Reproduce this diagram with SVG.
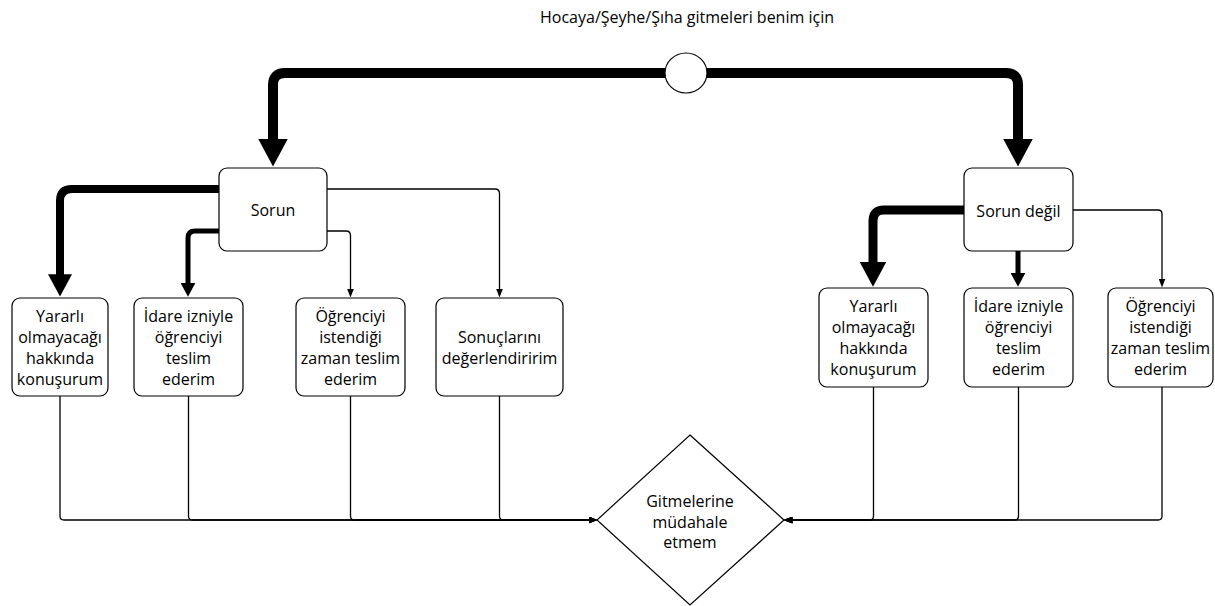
<svg xmlns="http://www.w3.org/2000/svg" width="1215" height="606" viewBox="0 0 1215 606">
<defs>
<style>
.box{fill:#fff;stroke:#000;stroke-width:1.2}
.t{font-family:"Open Sans","Liberation Sans",sans-serif;font-size:16px;fill:#000;text-anchor:middle}
.thick{fill:none;stroke:#000;stroke-linecap:round;stroke-linejoin:round;marker-end:url(#ah)}
.thin{fill:none;stroke:#000;stroke-width:1.3;marker-end:url(#as)}
</style>
<marker id="ah" viewBox="0 0 2.8 3" markerUnits="strokeWidth" markerWidth="2.8" markerHeight="3" refX="0.05" refY="1.5" orient="auto"><path d="M0,0 L2.8,1.5 L0,3 Z" fill="#000"/></marker>
<marker id="as" viewBox="0 0 9 7" markerUnits="userSpaceOnUse" markerWidth="9" markerHeight="7" refX="0.5" refY="3.5" orient="auto"><path d="M0,0 L9,3.5 L0,7 Z" fill="#000"/></marker>
</defs>
<rect width="1215" height="606" fill="#fff"/>
<g id="connectors">
<path class="thick" style="stroke-width:10" d="M676,73 H285 Q273,73 273,85 V139"/>
<path class="thick" style="stroke-width:10" d="M696,73 H1006 Q1018,73 1018,85 V139"/>
<path class="thick" style="stroke-width:8" d="M222,189 H72 Q60,189 60,201 V274.6"/>
<path class="thick" style="stroke-width:5" d="M222,231 H195 Q188,231 188,238 V283"/>
<path class="thin" d="M327,189 H495 Q499.5,189 499.5,193.5 V289"/>
<path class="thin" d="M327,231 H346 Q350.5,231 350.5,235.5 V289"/>
<path class="thick" style="stroke-width:9" d="M966,210 H884 Q873,210 873,221 V262"/>
<path class="thick" style="stroke-width:5;stroke-linecap:butt" d="M1018,251 V273"/>
<path class="thin" d="M1073,210 H1158 Q1162,210 1162,214 V279"/>
<path class="thin" d="M60,396 V516 Q60,520 64,520 H589"/>
<path class="thin" d="M188.5,396 V516 Q188.5,520 192.5,520 H589"/>
<path class="thin" d="M350.5,396 V516 Q350.5,520 354.5,520 H589"/>
<path class="thin" d="M499.5,396 V516 Q499.5,520 503.5,520 H589"/>
<path class="thin" d="M873.5,387 V516 Q873.5,520 869.5,520 H792"/>
<path class="thin" d="M1018.5,387 V516 Q1018.5,520 1014.5,520 H792"/>
<path class="thin" d="M1162,387 V516 Q1162,520 1158,520 H792"/>
</g>
<g id="title"><text class="t" x="687" y="23">Hocaya/Şeyhe/Şıha gitmeleri benim için</text></g>
<g id="start"><ellipse cx="686" cy="73" rx="21" ry="20" fill="#fff" stroke="#000" stroke-width="1.2"/></g>
<g id="sorun"><rect class="box" x="219" y="168" width="108" height="83" rx="8"/><text class="t" x="273" y="216">Sorun</text></g>
<g id="sorun-degil"><rect class="box" x="964" y="168" width="109" height="83" rx="8"/><text class="t" x="1018.5" y="217">Sorun değil</text></g>
<g id="l1"><rect class="box" x="12" y="298" width="96" height="98" rx="8"/><text class="t" x="60" y="322">Yararlı</text><text class="t" x="60" y="343">olmayacağı</text><text class="t" x="60" y="364">hakkında</text><text class="t" x="60" y="385">konuşurum</text></g>
<g id="l2"><rect class="box" x="134" y="298" width="109" height="98" rx="8"/><text class="t" x="188.5" y="322">İdare izniyle</text><text class="t" x="188.5" y="343">öğrenciyi</text><text class="t" x="188.5" y="364">teslim</text><text class="t" x="188.5" y="385">ederim</text></g>
<g id="l3"><rect class="box" x="296" y="298" width="109" height="98" rx="8"/><text class="t" x="350.5" y="322">Öğrenciyi</text><text class="t" x="350.5" y="343">istendiği</text><text class="t" x="350.5" y="364">zaman teslim</text><text class="t" x="350.5" y="385">ederim</text></g>
<g id="l4"><rect class="box" x="436" y="298" width="127" height="98" rx="8"/><text class="t" x="499.5" y="343">Sonuçlarını</text><text class="t" x="499.5" y="364">değerlendiririm</text></g>
<g id="r1"><rect class="box" x="819" y="288" width="109" height="99" rx="8"/><text class="t" x="873.5" y="312">Yararlı</text><text class="t" x="873.5" y="333">olmayacağı</text><text class="t" x="873.5" y="354">hakkında</text><text class="t" x="873.5" y="375">konuşurum</text></g>
<g id="r2"><rect class="box" x="964" y="288" width="109" height="99" rx="8"/><text class="t" x="1018.5" y="312">İdare izniyle</text><text class="t" x="1018.5" y="333">öğrenciyi</text><text class="t" x="1018.5" y="354">teslim</text><text class="t" x="1018.5" y="375">ederim</text></g>
<g id="r3"><rect class="box" x="1108" y="288" width="105" height="99" rx="8"/><text class="t" x="1160.5" y="312">Öğrenciyi</text><text class="t" x="1160.5" y="333">istendiği</text><text class="t" x="1160.5" y="354">zaman teslim</text><text class="t" x="1160.5" y="375">ederim</text></g>
<g id="end"><polygon points="690,435 784,520 690,605 597,520" fill="#fff" stroke="#000" stroke-width="1.2"/><text class="t" x="690" y="507">Gitmelerine</text><text class="t" x="690" y="527.5">müdahale</text><text class="t" x="690" y="548">etmem</text></g>
</svg>
